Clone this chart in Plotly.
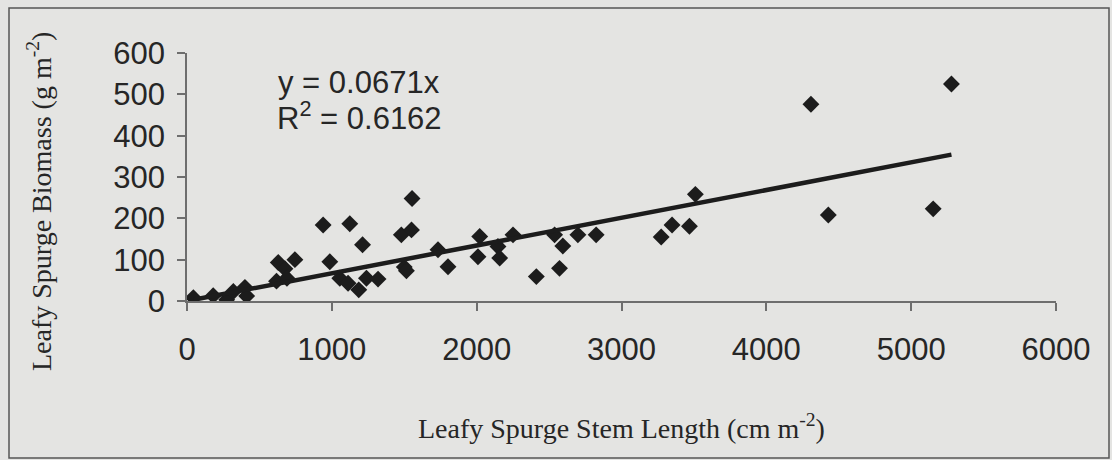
import plotly.graph_objects as go

# ---- data ----
stem_length = [44, 181, 274, 320, 400, 412, 618, 630, 676, 690, 745, 940, 986, 1055,
               1112, 1124, 1186, 1212, 1239, 1319, 1480, 1500, 1515, 1550, 1554, 1733,
               1802, 2009, 2021, 2147, 2159, 2251, 2412, 2538, 2572, 2595, 2699, 2825,
               3274, 3349, 3469, 3510, 4308, 4428, 5152, 5278]
biomass = [8, 13, 3, 23, 33, 12, 48, 93, 78, 55, 100, 184, 95, 55,
           43, 187, 27, 136, 55, 53, 160, 82, 73, 172, 248, 124,
           83, 107, 156, 132, 104, 160, 59, 160, 79, 133, 160, 160,
           155, 184, 181, 258, 476, 208, 223, 525]
slope = 0.0671
r_squared = 0.6162
x_ticks = [0, 1000, 2000, 3000, 4000, 5000, 6000]
y_ticks = [0, 100, 200, 300, 400, 500, 600]

W, H = 1112, 460
ML, MR, MT, MB = 187, 56, 53, 159
PW, PH = W - ML - MR, H - MT - MB


def px(xp):
    return (xp - ML) / PW


def py(yp):
    return (H - MB - yp) / PH


INK = "#1c1c1c"
AXIS = "#6e6e6e"
BG = "#e4e4e2"

fig = go.Figure()
fig.add_trace(go.Scatter(
    x=stem_length, y=biomass, mode="markers",
    marker=dict(symbol="diamond", size=13, color=INK, line=dict(width=0)),
    showlegend=False, hoverinfo="skip"))

x_line = [min(stem_length), max(stem_length)]
fig.add_trace(go.Scatter(
    x=x_line, y=[slope * v for v in x_line], mode="lines",
    line=dict(color=INK, width=4.5), showlegend=False, hoverinfo="skip"))

axis_common = dict(
    showgrid=False, zeroline=False, showline=True, linecolor=AXIS, linewidth=1.5,
    ticks="outside", ticklen=8, tickwidth=1.5, tickcolor=AXIS,
    tickfont=dict(family="Liberation Sans, Arial", size=31, color="#262626"),
)

fig.update_layout(
    width=W, height=H,
    margin=dict(l=ML, r=MR, t=MT, b=MB, pad=0),
    paper_bgcolor=BG, plot_bgcolor=BG,
    xaxis=dict(range=[0, 6000], tickvals=x_ticks, ticktext=[str(v) for v in x_ticks],
               ticklabelstandoff=12, **axis_common),
    yaxis=dict(range=[0, 600], tickvals=y_ticks, ticktext=[str(v) for v in y_ticks],
               ticklabelstandoff=6, **axis_common),
    shapes=[dict(type="rect", xref="paper", yref="paper",
                 x0=px(9), x1=px(1109), y0=py(458), y1=py(8),
                 line=dict(color="#555555", width=1.5), layer="below")],
    annotations=[
        dict(text="Leafy Spurge Stem Length (cm m<sup>-2</sup>)", xref="paper", yref="paper",
             x=px(621), y=py(426), xanchor="center", yanchor="middle", showarrow=False,
             font=dict(family="Liberation Serif, Times New Roman", size=28, color="#262626")),
        dict(text="Leafy Spurge Biomass (g m<sup>-2</sup>)", xref="paper", yref="paper",
             x=px(39), y=py(202), xanchor="center", yanchor="middle", textangle=-90,
             showarrow=False,
             font=dict(family="Liberation Serif, Times New Roman", size=28, color="#262626")),
        dict(text=f"y = {slope}x", xref="paper", yref="paper",
             x=px(276), y=py(82), xanchor="left", yanchor="middle", showarrow=False,
             font=dict(family="Liberation Sans, Arial", size=31, color="#262626")),
        dict(text=f"R<sup>2</sup> = {r_squared}", xref="paper", yref="paper",
             x=px(275), y=py(116), xanchor="left", yanchor="middle", showarrow=False,
             font=dict(family="Liberation Sans, Arial", size=31, color="#262626")),
    ],
)

fig.write_html("out.html")
